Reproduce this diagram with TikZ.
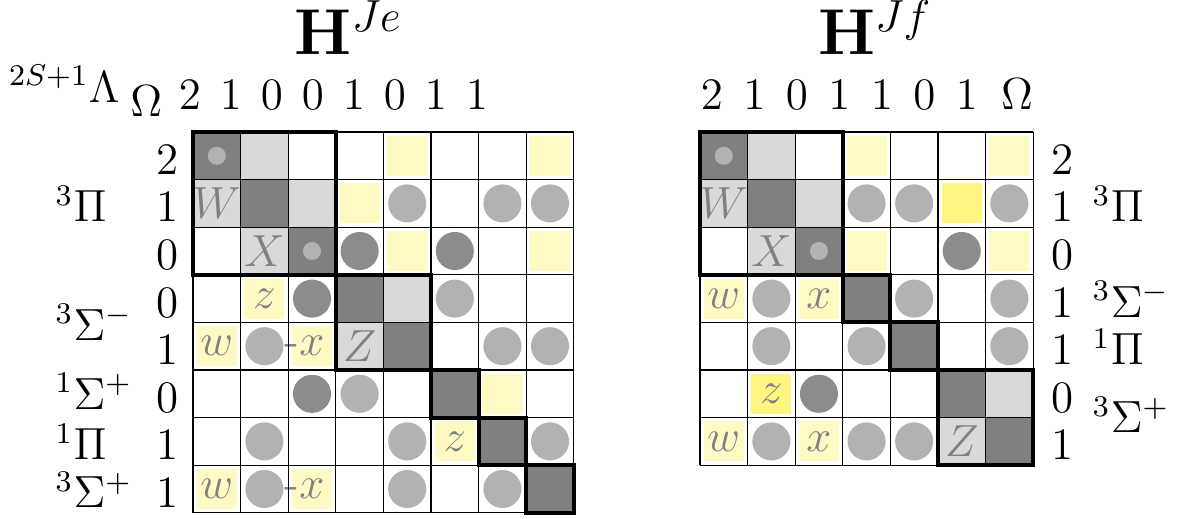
\documentclass[tikz,border=0pt]{standalone}

\definecolor{paleyellow}{RGB}{255,249,196}
\definecolor{brightyellow}{RGB}{255,245,128}

\tikzset{
  darkcell/.style={fill=black!50},
  lightcell/.style={fill=black!15},
  softdot/.style={fill=black!30},
  harddot/.style={fill=black!45},
  gridline/.style={line width=0.3pt, step=1},
  blockline/.style={line width=1.1pt, line join=miter},
  lbl/.style={inner sep=0pt, font=\large},
  tag/.style={inner sep=0pt, text=black!50, font=\large},
  title/.style={inner sep=0pt, font=\LARGE},
}

\begin{document}
\begin{tikzpicture}[x=0.446cm,y=0.446cm]
    \useasboundingbox (-4.055,2.773) rectangle (20.777,-8.130);

    % ---------- H^Je ----------
    % diagonal and light cells
    \foreach \c in {0,...,7}
        \fill[darkcell] (\c,-\c) rectangle ++(1,-1);
    \foreach \c/\r in {1/0,0/1,2/1,1/2,4/3,3/4}
        \fill[lightcell] (\c,-\r) rectangle ++(1,-1);
    % yellow boxes
    \foreach \c/\r in {4/0,7/0,3/1,4/2,7/2,1/3,0/4,2/4,6/5,5/6,0/7,2/7}
        \fill[paleyellow] (\c+0.08,-\r-0.08) rectangle ++(0.84,-0.84);
    % circles
    \foreach \c/\r in {4/1,6/1,7/1,5/3,1/4,6/4,7/4,3/5,1/6,4/6,7/6,1/7,4/7,6/7}
        \fill[softdot] (\c+0.5,-\r-0.5) circle (0.4);
    \foreach \c/\r in {3/2,5/2,2/3,2/5}
        \fill[harddot] (\c+0.5,-\r-0.5) circle (0.4);
    \foreach \c in {0,2}
        \fill[softdot] (\c+0.5,-\c-0.5) circle (0.19);
    % cell tags
    \node[tag] (jeW) at (0.5,-1.5) {$W$};
    \node[tag] (jeX) at (1.5,-2.5) {$X$};
    \node[tag] (jeZ) at (3.5,-4.5) {$Z$};
    \node[tag] (jez1) at (1.5,-3.5) {$z$};
    \node[tag] (jew1) at (0.5,-4.5) {$w$};
    \node[tag] (jex1) at (2.5,-4.5) {\llap{-}$x$};
    \node[tag] (jez2) at (5.5,-6.5) {$z$};
    \node[tag] (jew2) at (0.5,-7.5) {$w$};
    \node[tag] (jex2) at (2.5,-7.5) {\llap{-}$x$};
    % grid and blocks
    \draw[gridline] (0,0) grid (8,-8);
    \draw[blockline] (0,0) rectangle (3,-3);
    \draw[blockline] (3,-3) rectangle (5,-5);
    \foreach \c in {5,6,7}
        \draw[blockline] (\c,-\c) rectangle ++(1,-1);

    % labels
    \node[title, anchor=base] (hje) at (3.27,1.62) {$\mathbf{H}^{Je}$};
    \node[lbl, anchor=base east] (lam) at (-1.53,0.63) {$^{2S+1}\Lambda$};
    \node[lbl, anchor=base] (omg) at (-0.98,0.315) {$\Omega$};
    \foreach \w [count=\i from 0] in {2,1,0,0,1,0,1,1}
        \node[lbl, anchor=base] (jeo\i) at (-0.063+0.861*\i,0.462) {$\w$};
    \foreach \w [count=\i from 0] in {2,1,0,0,1,0,1,1}
        \node[lbl, anchor=base] (jer\i) at (-0.546,-\i-0.89) {$\w$};
    \node[lbl, anchor=base west] (jePi) at (-2.90,-1.89) {$^3\Pi$};
    \node[lbl, anchor=base west] (jeSm) at (-2.90,-4.37) {$^3\Sigma^-$};
    \node[lbl, anchor=base west] (jeSp) at (-2.90,-5.82) {$^1\Sigma^+$};
    \node[lbl, anchor=base west] (jePs) at (-2.90,-6.89) {$^1\Pi$};
    \node[lbl, anchor=base west] (jeSt) at (-2.90,-7.89) {$^3\Sigma^+$};

    % ---------- H^Jf ----------
    \begin{scope}[shift={(10.65,0)}]
        \foreach \c in {0,...,6}
            \fill[darkcell] (\c,-\c) rectangle ++(1,-1);
        \foreach \c/\r in {1/0,0/1,2/1,1/2,6/5,5/6}
            \fill[lightcell] (\c,-\r) rectangle ++(1,-1);
        \foreach \c/\r in {3/0,6/0,3/2,6/2,0/3,2/3,0/6,2/6}
            \fill[paleyellow] (\c+0.08,-\r-0.08) rectangle ++(0.84,-0.84);
        \foreach \c/\r in {5/1,1/5}
            \fill[brightyellow] (\c+0.08,-\r-0.08) rectangle ++(0.84,-0.84);
        \foreach \c/\r in {3/1,4/1,6/1,1/3,4/3,6/3,1/4,3/4,6/4,1/6,3/6,4/6}
            \fill[softdot] (\c+0.5,-\r-0.5) circle (0.4);
        \foreach \c/\r in {5/2,2/5}
            \fill[harddot] (\c+0.5,-\r-0.5) circle (0.4);
        \foreach \c in {0,2}
            \fill[softdot] (\c+0.5,-\c-0.5) circle (0.19);
        \node[tag] (jfW) at (0.5,-1.5) {$W$};
        \node[tag] (jfX) at (1.5,-2.5) {$X$};
        \node[tag] (jfZ) at (5.5,-6.5) {$Z$};
        \node[tag] (jfw1) at (0.5,-3.5) {$w$};
        \node[tag] (jfx1) at (2.5,-3.5) {$x$};
        \node[tag] (jfz1) at (1.5,-5.5) {$z$};
        \node[tag] (jfw2) at (0.5,-6.5) {$w$};
        \node[tag] (jfx2) at (2.5,-6.5) {$x$};
        \draw[gridline] (0,0) grid (7,-7);
        \draw[blockline] (0,0) rectangle (3,-3);
        \draw[blockline] (3,-3) rectangle (4,-4);
        \draw[blockline] (4,-4) rectangle (5,-5);
        \draw[blockline] (5,-5) rectangle (7,-7);

        \node[title, anchor=base] (hjf) at (3.68,1.62) {$\mathbf{H}^{Jf}$};
        \foreach \w [count=\i from 0] in {2,1,0,1,1,0,1}
            \node[lbl, anchor=base] (jfo\i) at (0.25+0.893*\i,0.462) {$\w$};
        \node[lbl, anchor=base] (jfomg) at (6.66,0.462) {$\Omega$};
        \foreach \w [count=\i from 0] in {2,1,0,1,1,0,1}
            \node[lbl, anchor=base] (jfr\i) at (7.61,-\i-0.89) {$\w$};
        \node[lbl, anchor=base west] (jfPi) at (8.24,-1.89) {$^3\Pi$};
        \node[lbl, anchor=base west] (jfSm) at (8.24,-3.89) {$^3\Sigma^-$};
        \node[lbl, anchor=base west] (jfPs) at (8.24,-4.89) {$^1\Pi$};
        \node[lbl, anchor=base west] (jfSt) at (8.24,-6.32) {$^3\Sigma^+$};
    \end{scope}
\end{tikzpicture}
\end{document}
